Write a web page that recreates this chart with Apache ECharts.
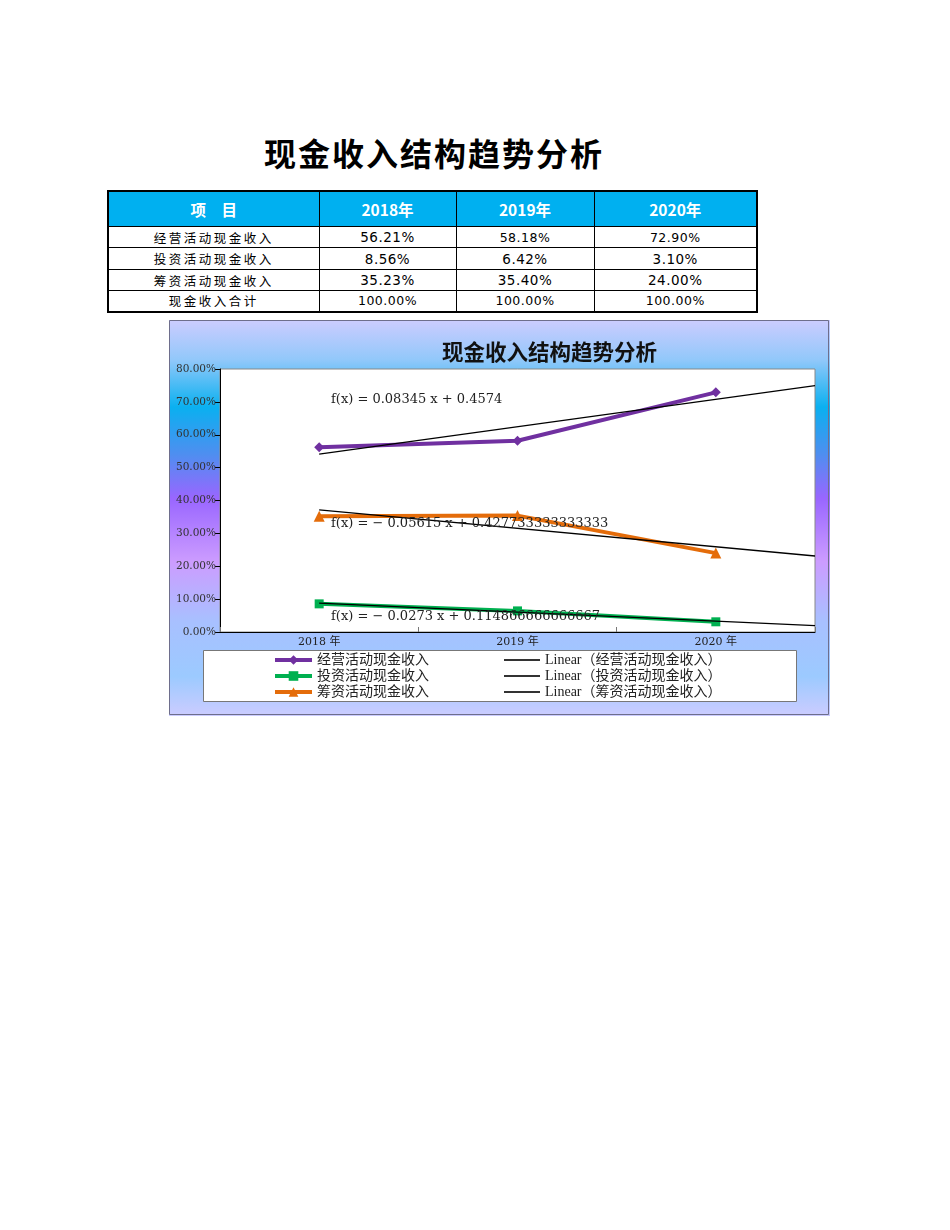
<!DOCTYPE html>
<html><head><meta charset="utf-8">
<script src="https://cdn.jsdelivr.net/npm/echarts@6/dist/echarts.min.js"></script>
<style>
html,body{margin:0;padding:0;background:#fff;}
body{width:950px;height:1230px;position:relative;overflow:hidden;}
#title{position:absolute;left:0;width:868px;top:130px;text-align:center;font-family:"Noto Sans CJK SC";font-weight:bold;font-size:32px;letter-spacing:2px;color:#000;line-height:44px;}
#tbl{position:absolute;left:107px;top:190px;border-collapse:collapse;border:2px solid #000;table-layout:fixed;}
#tbl td{border:1px solid #000;padding:0;text-align:center;white-space:nowrap;color:#000;}
#tbl tr.hd td{background:#00B0F0;color:#fff;font-family:"Noto Sans CJK SC";font-weight:bold;font-size:15.5px;height:34px;}
#tbl td.nm{font-family:"Noto Sans CJK SC";font-size:12.5px;letter-spacing:2.5px;}
#tbl td.v{font-family:"DejaVu Sans";font-size:12.5px;letter-spacing:0.5px;}
#tbl td.big{font-size:13.5px;}
#chart{position:absolute;left:169px;top:320px;width:661px;height:396px;}
</style>
</head><body>
<div id="title">现金收入结构趋势分析</div>
<table id="tbl"></table>
<div id="chart"></div>
<script>
const pageTitle = '现金收入结构趋势分析';
const categories = ['2018年', '2019年', '2020年'];
const itemHeader = '项　目';
const seriesNames = ['经营活动现金收入', '投资活动现金收入', '筹资活动现金收入'];
const totalName = '现金收入合计';
const operating = [0.5621, 0.5818, 0.7290];
const investing = [0.0856, 0.0642, 0.0310];
const financing = [0.3523, 0.3540, 0.2400];
const trendNames = ['Linear（经营活动现金收入）', 'Linear（投资活动现金收入）', 'Linear（筹资活动现金收入）'];
const trendLabels = ['f(x) = 0.08345 x + 0.4574', 'f(x) = − 0.0273 x + 0.114866666666667', 'f(x) = − 0.05615 x + 0.427733333333333'];
const yMin = 0, yMax = 0.8, yStep = 0.1;

// ---- table ----
const allSeries = [operating, investing, financing];
const bigCells = [[true,false,false],[true,true,true],[true,true,true]];
const tbl = document.getElementById('tbl');
const colW = [211, 137, 138, 163];
let html = '<colgroup>' + colW.map(w => '<col style="width:' + w + 'px">').join('') + '</colgroup>';
html += '<tr class="hd"><td>' + itemHeader + '</td>' + categories.map(c => '<td>' + c + '</td>').join('') + '</tr>';
const rowH = [21, 22, 21, 21];
allSeries.forEach((vals, r) => {
  html += '<tr style="height:' + rowH[r] + 'px"><td class="nm">' + seriesNames[r] + '</td>' +
    vals.map((v, c) => '<td class="v' + (bigCells[r][c] ? ' big' : '') + '">' + (v * 100).toFixed(2) + '%</td>').join('') + '</tr>';
});
const totals = categories.map((_, c) => allSeries.reduce((s, a) => s + a[c], 0));
html += '<tr style="height:' + rowH[3] + 'px"><td class="nm">' + totalName + '</td>' + totals.map(v => '<td class="v">' + (v * 100).toFixed(2) + '%</td>').join('') + '</tr>';
tbl.innerHTML = html;

// ---- regression ----
function fit(vals) {
  const n = vals.length;
  const xs = vals.map((_, i) => i + 1);
  const mx = xs.reduce((a, b) => a + b, 0) / n;
  const my = vals.reduce((a, b) => a + b, 0) / n;
  let sxy = 0, sxx = 0;
  xs.forEach((x, i) => { sxy += (x - mx) * (vals[i] - my); sxx += (x - mx) * (x - mx); });
  const b = sxy / sxx;
  return { a: my - b * mx, b: b };
}
function trendData(vals) {
  const f = fit(vals);
  const x0 = 1, x1 = vals.length + 0.5;
  return [[x0, f.a + f.b * x0], [x1, f.a + f.b * x1]];
}

const serif = "'DejaVu Serif','Noto Sans CJK SC'";
const legendFont = "'Liberation Serif','Noto Sans CJK SC'";
const colors = ['#7030A0', '#00B050', '#E46C0A'];
const symbols = ['diamond', 'rect', 'triangle'];
const symSizes = [10, 9, 11];

const chart = echarts.init(document.getElementById('chart'), null, { renderer: 'canvas' });
const dataSeries = allSeries.map((vals, i) => ({
  name: seriesNames[i], type: 'line', data: vals,
  xAxisIndex: 0, yAxisIndex: 0,
  symbol: symbols[i], symbolSize: symSizes[i], showAllSymbol: true,
  itemStyle: { color: colors[i] },
  lineStyle: { color: colors[i], width: 4 },
  z: 2, silent: true
}));
const trendSeries = allSeries.map((vals, i) => ({
  name: trendNames[i], type: 'line', data: trendData(vals),
  xAxisIndex: 1, yAxisIndex: 0,
  symbol: 'none', itemStyle: { color: '#000' },
  lineStyle: { color: '#000', width: 1.3 },
  z: 5, silent: true
}));

const eqStyle = (t) => ({ text: t, fontFamily: 'DejaVu Serif', fontSize: 13, fill: '#222' });

const option = {
  animation: false,
  backgroundColor: {
    type: 'linear', x: 0, y: 0, x2: 0, y2: 1,
    colorStops: [
      { offset: 0, color: '#CCCCFF' },
      { offset: 0.10, color: '#92C8FA' },
      { offset: 0.22, color: '#0AB0F0' },
      { offset: 0.34, color: '#4F8EF0' },
      { offset: 0.45, color: '#9966FF' },
      { offset: 0.61, color: '#CC9CFF' },
      { offset: 0.76, color: '#A8C0FF' },
      { offset: 0.90, color: '#9CCAFF' },
      { offset: 1, color: '#CCCCFF' }
    ]
  },
  title: {
    text: pageTitle, left: 273, top: 21, padding: 0,
    textStyle: { fontFamily: 'Noto Sans CJK SC', fontWeight: 'bold', fontSize: 21.5, color: '#111' }
  },
  grid: { left: 51, top: 49, width: 595, height: 263, show: true, backgroundColor: '#fff', borderColor: '#888', borderWidth: 1, containLabel: false },
  xAxis: [{
    type: 'category', data: categories, boundaryGap: true,
    axisLine: { lineStyle: { color: '#000', width: 1 } },
    axisTick: { show: true, inside: true, length: 5, lineStyle: { color: '#777' } },
    axisLabel: { formatter: v => v.replace('年', ' 年'), fontFamily: serif, fontSize: 11, color: '#222', margin: 5 },
    splitLine: { show: false }
  }, {
    type: 'value', min: 0.5, max: categories.length + 0.5, show: false
  }],
  yAxis: {
    type: 'value', min: yMin, max: yMax, interval: yStep,
    axisLine: { show: true, lineStyle: { color: '#000', width: 1 } },
    axisTick: { show: true, length: 5, lineStyle: { color: '#000' } },
    axisLabel: { formatter: v => (v * 100).toFixed(2) + '%', fontFamily: serif, fontSize: 10.5, color: '#333', margin: 4 },
    splitLine: { show: false }
  },
  legend: [{
    orient: 'vertical', left: 104, top: 332, padding: 0, itemGap: 0,
    itemWidth: 37, itemHeight: 12,
    data: seriesNames.map(n => ({ name: n, lineStyle: { width: 4 } })),
    textStyle: { fontFamily: legendFont, fontSize: 14, color: '#222', lineHeight: 16 },
    selectedMode: false
  }, {
    orient: 'vertical', left: 335, top: 332, padding: 0, itemGap: 0,
    itemWidth: 36, itemHeight: 2, icon: 'rect',
    data: trendNames.map(n => ({ name: n, itemStyle: { color: '#333' } })),
    textStyle: { fontFamily: legendFont, fontSize: 14, color: '#222', lineHeight: 16 },
    selectedMode: false
  }],
  graphic: [
    { type: 'rect', z: 1, shape: { x: 34.5, y: 330.5, width: 593, height: 51 }, style: { fill: '#fff', stroke: '#777', lineWidth: 1 }, silent: true },
    { type: 'rect', z: 1, shape: { x: 0.5, y: 0.5, width: 659, height: 394 }, style: { fill: 'none', stroke: '#6E6E8C', lineWidth: 1 }, silent: true },
    { type: 'text', z: 100, left: 162, top: 73, style: eqStyle(trendLabels[0]), silent: true },
    { type: 'text', z: 100, left: 162, top: 197, style: eqStyle(trendLabels[2]), silent: true },
    { type: 'text', z: 100, left: 162, top: 290, style: eqStyle(trendLabels[1]), silent: true }
  ],
  series: dataSeries.concat(trendSeries)
};
chart.setOption(option);
</script>
</body></html>
